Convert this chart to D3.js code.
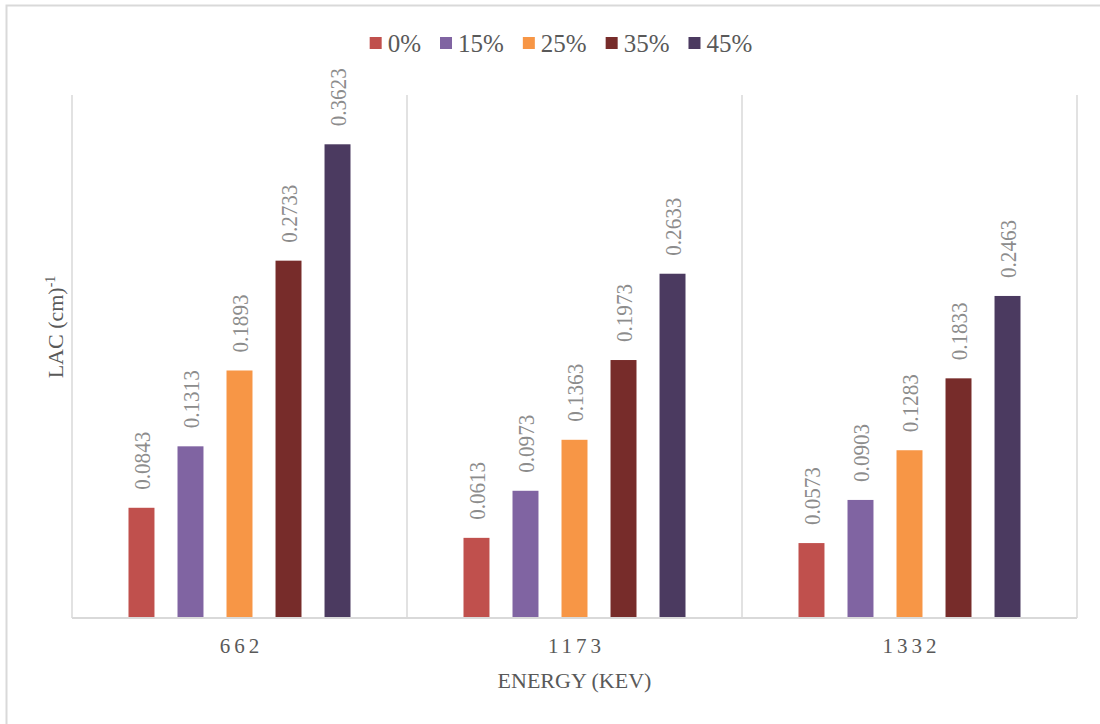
<!DOCTYPE html>
<html>
<head>
<meta charset="utf-8">
<script src="https://cdn.jsdelivr.net/npm/d3@7"></script>
<style>
  html, body { margin: 0; padding: 0; background: #ffffff; }
  svg { display: block; }
</style>
</head>
<body>
<svg id="chart" width="1100" height="724"></svg>
<script>
// Energy categories (keV)
const energies = ["662", "1173", "1332"];
// Series names (filler percentage)
const series = ["0%", "15%", "25%", "35%", "45%"];
// Linear attenuation coefficient, one array per series, in energy order
const lac0  = [0.0843, 0.0613, 0.0573];
const lac15 = [0.1313, 0.0973, 0.0903];
const lac25 = [0.1893, 0.1363, 0.1283];
const lac35 = [0.2733, 0.1973, 0.1833];
const lac45 = [0.3623, 0.2633, 0.2463];
const seriesValues = [lac0, lac15, lac25, lac35, lac45];
const colors = ["#c0504d", "#8064a2", "#f79646", "#772c2a", "#4b3a60"];

const svg = d3.select("#chart");
const W = 1100, H = 724;
const plot = { left: 72, right: 1077, top: 95, bottom: 618 };
const serif = "'Liberation Serif', 'DejaVu Serif', serif";

// Outer chart frame
svg.append("rect")
  .attr("x", 6.5).attr("y", 5.5)
  .attr("width", W + 10).attr("height", H + 10)
  .attr("fill", "none").attr("stroke", "#d9d9d9").attr("stroke-width", 2);

const x0 = d3.scaleBand().domain(energies).range([plot.left, plot.right]).padding(0);
const x1 = d3.scaleBand().domain(series)
  .range([56.5, x0.bandwidth() - 56.5]).paddingInner(0.47).paddingOuter(0);
const y = d3.scaleLinear().domain([0, 0.4]).range([plot.bottom, plot.top]);

// Category separators
const seps = energies.map(e => x0(e)).concat([plot.right]);
svg.append("g").selectAll("line").data(seps).join("line")
  .attr("x1", d => d).attr("x2", d => d)
  .attr("y1", plot.top).attr("y2", plot.bottom)
  .attr("stroke", "#d9d9d9").attr("stroke-width", 1.5);

// Bars
const rows = [];
energies.forEach((e, i) => series.forEach((s, j) => rows.push({ e, s, j, v: seriesValues[j][i] })));

const g = svg.append("g");
g.selectAll("rect").data(rows).join("rect")
  .attr("x", d => x0(d.e) + x1(d.s))
  .attr("y", d => y(d.v))
  .attr("width", x1.bandwidth())
  .attr("height", d => y(0) - y(d.v))
  .attr("fill", d => colors[d.j]);

// Value labels, rotated
g.selectAll("text").data(rows).join("text")
  .attr("transform", d => `translate(${x0(d.e) + x1(d.s) + x1.bandwidth() / 2},${y(d.v) - 18}) rotate(-90)`)
  .attr("dy", "0.35em")
  .attr("text-anchor", "start")
  .attr("font-family", serif)
  .attr("font-size", 24)
  .attr("textLength", 58)
  .attr("lengthAdjust", "spacingAndGlyphs")
  .attr("fill", "#8c8c8c")
  .text(d => d.v.toFixed(4));

// Baseline
svg.append("line")
  .attr("x1", plot.left).attr("x2", plot.right)
  .attr("y1", plot.bottom).attr("y2", plot.bottom)
  .attr("stroke", "#d9d9d9").attr("stroke-width", 2);

// Category labels
svg.append("g").selectAll("text").data(energies).join("text")
  .attr("x", d => x0(d) + x0.bandwidth() / 2 + 2)
  .attr("y", 653)
  .attr("text-anchor", "middle")
  .attr("font-family", serif)
  .attr("font-size", 21)
  .attr("letter-spacing", 4)
  .attr("fill", "#595959")
  .text(d => d);

// Axis titles
svg.append("text")
  .attr("x", (plot.left + plot.right) / 2).attr("y", 688)
  .attr("text-anchor", "middle")
  .attr("font-family", serif).attr("font-size", 22)
  .attr("fill", "#595959")
  .text("ENERGY (KEV)");

const yt = svg.append("text")
  .attr("transform", "translate(63,327) rotate(-90)")
  .attr("text-anchor", "middle")
  .attr("font-family", serif).attr("font-size", 22)
  .attr("fill", "#595959");
yt.append("tspan").text("LAC (cm)");
yt.append("tspan").attr("dy", -8).attr("font-size", 14).text("-1");

// Legend
const leg = svg.append("g");
let lx = 0;
series.forEach((s, j) => {
  const item = leg.append("g").attr("transform", `translate(${lx},0)`);
  item.append("rect").attr("x", 0).attr("y", -6).attr("width", 12).attr("height", 12).attr("fill", colors[j]);
  const t = item.append("text").attr("x", 18).attr("y", 0).attr("dy", "0.35em")
    .attr("font-family", serif).attr("font-size", 25).attr("fill", "#595959").text(s);
  lx += 18 + t.node().getComputedTextLength() + 19;
});
const legW = lx - 19;
leg.attr("transform", `translate(${561 - legW / 2},43)`);
</script>
</body>
</html>
